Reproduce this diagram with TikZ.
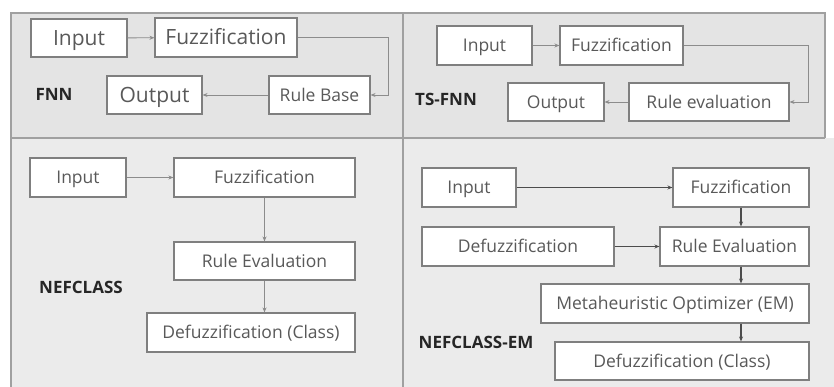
\documentclass[tikz,border=0pt]{standalone}
\usepackage{fontspec}
\setmainfont{Open Sans}
\usepackage{xcolor}
\usepackage{tikz}
\usetikzlibrary{arrows.meta}

\definecolor{panelTop}{HTML}{E4E4E4}
\definecolor{panelBot}{HTML}{EBEBEB}
\definecolor{frameGray}{HTML}{A0A0A0}
\definecolor{boxLine}{HTML}{7F7F7F}
\definecolor{boxText}{HTML}{595959}
\definecolor{arrowGray}{HTML}{8C8C8C}

\begin{document}
\begin{tikzpicture}[x=1pt, y=-1pt,
    box/.style={draw=boxLine, line width=1.1pt, fill=white, text=boxText, inner sep=0pt,
        text height=12.5pt, text depth=0pt, font=\fontsize{17.5}{20}\selectfont},
    bigbox/.style={box, text height=15pt, font=\fontsize{21}{24}\selectfont},
    lbl/.style={text=black!85, font=\fontsize{17}{19}\selectfont\bfseries, inner sep=0pt,
        text height=12pt, text depth=0pt},
    arr/.style={draw=arrowGray, line width=0.9pt, -{Stealth[length=5pt,width=4pt]}},
    darr/.style={arr, draw=black!70, line width=1.1pt}]
    \useasboundingbox (0,0) rectangle (834,387);
    % panels
    \fill[panelTop] (11,13) rectangle (825,138);
    \fill[panelBot] (11,138) rectangle (834,387);
    \draw[frameGray, line width=1.3pt] (11,387) -- (11,13) -- (825,13) -- (825,138);
    \draw[frameGray, line width=1.3pt] (11,138) -- (825,138);
    \draw[frameGray, line width=1.3pt] (403,13) -- (403,387);

    % FNN
    \node[bigbox, minimum width=96pt, minimum height=38pt] (inA) at (79,38) {Input};
    \node[bigbox, minimum width=142pt, minimum height=39pt] (fuzA) at (226,37.5) {Fuzzification};
    \node[bigbox, minimum width=95pt, minimum height=38pt] (outA) at (154.5,95) {Output};
    \node[box, minimum width=101pt, minimum height=38pt] (ruleA) at (319.5,95) {Rule Base};
    \node[lbl] (nameA) at (54,95) {FNN};
    \coordinate (turnA) at (388,95);
    \draw[arr] (inA) -- (fuzA);
    \draw[arr] (fuzA.east) -| (turnA) -- (ruleA.east);
    \draw[arr] (ruleA) -- (outA);

    % TS-FNN
    \node[box, minimum width=95pt, minimum height=39pt] (inB) at (484.5,45.5) {Input};
    \node[box, minimum width=123pt, minimum height=39pt] (fuzB) at (621.5,45.5) {Fuzzification};
    \node[box, minimum width=96pt, minimum height=38pt] (outB) at (556,102) {Output};
    \node[box, minimum width=160pt, minimum height=38pt] (ruleB) at (709,102) {Rule evaluation};
    \node[lbl] (nameB) at (446,100) {TS-FNN};
    \coordinate (turnB) at (808,102);
    \draw[arr] (inB) -- (fuzB);
    \draw[arr] (fuzB.east) -| (turnB) -- (ruleB.east);
    \draw[arr] (ruleB) -- (outB);

    % NEFCLASS
    \node[box, minimum width=96pt, minimum height=39pt] (inC) at (78,177.5) {Input};
    \node[box, minimum width=181pt, minimum height=39pt] (fuzC) at (264.5,177.5) {Fuzzification};
    \node[box, minimum width=181pt, minimum height=38pt] (ruleC) at (264.5,261) {Rule Evaluation};
    \node[box, minimum width=208pt, minimum height=39pt] (clsC) at (251,332.5) {Defuzzification (Class)};
    \node[lbl] (nameC) at (81,287) {NEFCLASS};
    \draw[arr] (inC) -- (fuzC);
    \draw[arr] (fuzC) -- (ruleC);
    \draw[arr] (ruleC.south) -- (ruleC.south |- clsC.north);

    % NEFCLASS-EM
    \node[box, minimum width=94pt, minimum height=39pt] (inD) at (469,187.5) {Input};
    \node[box, minimum width=136pt, minimum height=39pt] (fuzD) at (741,187.5) {Fuzzification};
    \node[box, minimum width=192pt, minimum height=39pt] (defD) at (518,246.5) {Defuzzification};
    \node[box, minimum width=149pt, minimum height=39pt] (ruleD) at (734.5,246.5) {Rule Evaluation};
    \node[box, minimum width=268pt, minimum height=39pt] (metaD) at (675,303.5) {Metaheuristic Optimizer (EM)};
    \node[box, minimum width=254pt, minimum height=38pt] (clsD) at (682,361) {Defuzzification (Class)};
    \node[lbl] (nameD) at (476,342) {NEFCLASS-EM};
    \draw[darr] (inD) -- (fuzD);
    \draw[darr] (defD) -- (ruleD);
    \draw[darr] (fuzD.south) -- (fuzD.south |- ruleD.north);
    \draw[darr] (fuzD.south |- ruleD.south) -- (fuzD.south |- metaD.north);
    \draw[darr] (fuzD.south |- metaD.south) -- (fuzD.south |- clsD.north);
\end{tikzpicture}
\end{document}
